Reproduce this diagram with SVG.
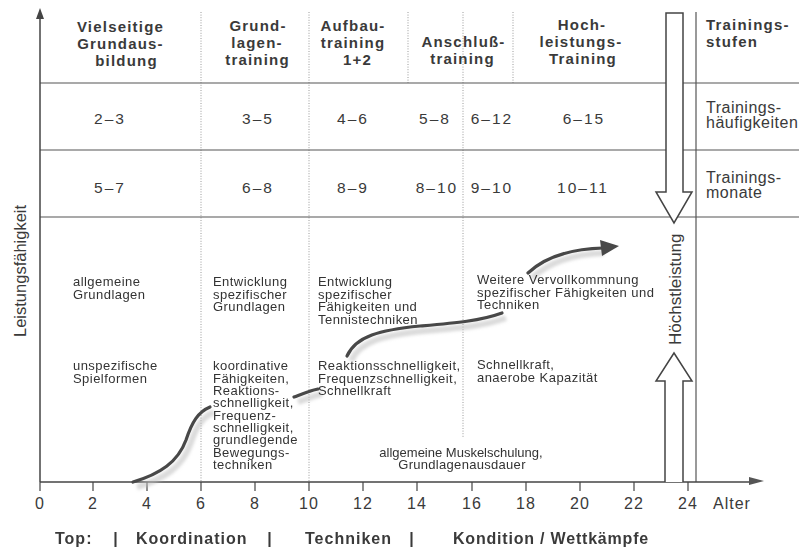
<svg xmlns="http://www.w3.org/2000/svg" width="799" height="548" viewBox="0 0 799 548">
  <defs>
    <style>
      .bg { fill: #ffffff; }
      .axis { stroke: #444; stroke-width: 1.5; fill: none; }
      .rule { stroke: #555; stroke-width: 1.2; fill: none; }
      .dot { stroke: #9a9a9a; stroke-width: 1; stroke-dasharray: 1 1.6; fill: none; }
      .tick { stroke: #444; stroke-width: 1.2; }
      .head { font-family: "Liberation Sans", Arial, sans-serif; font-weight: bold; font-size: 15px; letter-spacing: 1.2px; fill: #3a3a3a; text-anchor: middle; }
      .headL { font-family: "Liberation Sans", Arial, sans-serif; font-weight: bold; font-size: 15px; letter-spacing: 1.2px; fill: #3a3a3a; }
      .num { font-family: "Liberation Sans", Arial, sans-serif; font-size: 15.5px; letter-spacing: 2px; fill: #3a3a3a; text-anchor: middle; }
      .side { font-family: "Liberation Sans", Arial, sans-serif; font-size: 16px; letter-spacing: 0.5px; fill: #3a3a3a; }
      .body { font-family: "Liberation Sans", Arial, sans-serif; font-size: 13px; letter-spacing: 0.45px; fill: #333; }
      .tk { font-family: "Liberation Sans", Arial, sans-serif; font-size: 16px; letter-spacing: 1px; fill: #3a3a3a; text-anchor: middle; }
      .vert { font-family: "Liberation Sans", Arial, sans-serif; font-size: 16.5px; fill: #3a3a3a; }
      .foot { font-family: "Liberation Sans", Arial, sans-serif; font-weight: bold; font-size: 16px; letter-spacing: 1px; fill: #3a3a3a; }
      .curve { stroke: #484848; stroke-width: 3.2; fill: none; stroke-linecap: round; }
      .shadow { stroke: #bdbdbd; stroke-width: 6; fill: none; opacity: 0.55; }
      .hollow { fill: #ffffff; stroke: #444; stroke-width: 1.5; stroke-linejoin: miter; }
    </style>
    <filter id="soft" x="-10%" y="-10%" width="120%" height="120%">
      <feGaussianBlur stdDeviation="1.6"/>
    </filter>
  </defs>

  <rect class="bg" x="0" y="0" width="799" height="548"/>

  <!-- table grid -->
  <g id="grid">
    <line class="dot" x1="201" y1="12" x2="201" y2="482"/>
    <line class="dot" x1="309" y1="12" x2="309" y2="482"/>
    <line class="dot" x1="408" y1="12" x2="408" y2="83"/>
    <line class="dot" x1="463" y1="12" x2="463" y2="438"/>
    <line class="dot" x1="513" y1="12" x2="513" y2="83"/>
    <line class="rule" x1="40" y1="83" x2="799" y2="83"/>
    <line class="rule" x1="40" y1="150" x2="799" y2="150"/>
    <line class="rule" x1="40" y1="217" x2="799" y2="217"/>
    <line class="rule" x1="696" y1="12" x2="696" y2="482"/>
  </g>

  <!-- axes -->
  <g id="axes">
    <line class="axis" x1="40" y1="482" x2="40" y2="16"/>
    <polygon points="40,8 36,19 44,19" fill="#444"/>
    <line class="axis" x1="40" y1="482" x2="752" y2="482"/>
    <polygon points="764,481 749,477 749,485" fill="#555"/>
    <g id="ticks">
      <line class="tick" x1="40" y1="482" x2="40" y2="491"/>
      <line class="tick" x1="93" y1="482" x2="93" y2="491"/>
      <line class="tick" x1="147" y1="482" x2="147" y2="491"/>
      <line class="tick" x1="201" y1="482" x2="201" y2="491"/>
      <line class="tick" x1="255" y1="482" x2="255" y2="491"/>
      <line class="tick" x1="309" y1="482" x2="309" y2="491"/>
      <line class="tick" x1="363" y1="482" x2="363" y2="491"/>
      <line class="tick" x1="417" y1="482" x2="417" y2="491"/>
      <line class="tick" x1="472" y1="482" x2="472" y2="491"/>
      <line class="tick" x1="526" y1="482" x2="526" y2="491"/>
      <line class="tick" x1="580" y1="482" x2="580" y2="491"/>
      <line class="tick" x1="634" y1="482" x2="634" y2="491"/>
      <line class="tick" x1="688" y1="482" x2="688" y2="491"/>
    </g>
    <g id="tick-labels">
      <text class="tk" x="40" y="509">0</text>
      <text class="tk" x="93" y="509">2</text>
      <text class="tk" x="147" y="509">4</text>
      <text class="tk" x="201" y="509">6</text>
      <text class="tk" x="255" y="509">8</text>
      <text class="tk" x="309" y="509">10</text>
      <text class="tk" x="363" y="509">12</text>
      <text class="tk" x="417" y="509">14</text>
      <text class="tk" x="472" y="509">16</text>
      <text class="tk" x="526" y="509">18</text>
      <text class="tk" x="580" y="509">20</text>
      <text class="tk" x="634" y="509">22</text>
      <text class="tk" x="688" y="509">24</text>
      <text class="tk" x="713" y="509" style="text-anchor:start">Alter</text>
    </g>
    <text class="vert" transform="translate(26,337) rotate(-90)">Leistungsfähigkeit</text>
  </g>

  <!-- peak performance arrows -->
  <g id="peak">
    <path class="hollow" d="M666,13 H683 V192 H692 L674,223 L656,192 H666 Z"/>
    <path class="hollow" d="M665,482 V381 H656 L674,353 L692,381 H683 V482"/>
    <text class="vert" transform="translate(681,345) rotate(-90)" style="font-size:17px">Höchstleistung</text>
  </g>

  <!-- training stages (header row) -->
  <g id="stage-headers">
    <text class="head" x="120.5" y="32">Vielseitige</text>
    <text class="head" x="120.5" y="49">Grundaus-</text>
    <text class="head" x="126.5" y="66">bildung</text>
    <text class="head" x="258" y="31">Grund-</text>
    <text class="head" x="257" y="48">lagen-</text>
    <text class="head" x="257.5" y="64.5">training</text>
    <text class="head" x="353" y="31">Aufbau-</text>
    <text class="head" x="353" y="48">training</text>
    <text class="head" x="357.5" y="64.5">1+2</text>
    <text class="head" x="463.5" y="47">Anschluß-</text>
    <text class="head" x="462.5" y="64">training</text>
    <text class="head" x="582" y="30">Hoch-</text>
    <text class="head" x="581" y="47">leistungs-</text>
    <text class="head" x="583" y="63.5">Training</text>
    <text class="headL" x="706" y="30">Trainings-</text>
    <text class="headL" x="706" y="47">stufen</text>
  </g>

  <!-- training frequency row -->
  <g id="frequency-row">
    <text class="num" x="110" y="123.5">2–3</text>
    <text class="num" x="258" y="123.5">3–5</text>
    <text class="num" x="353" y="123.5">4–6</text>
    <text class="num" x="435" y="123.5">5–8</text>
    <text class="num" x="492" y="123.5">6–12</text>
    <text class="num" x="584" y="123.5">6–15</text>
    <text class="side" x="706" y="113">Trainings-</text>
    <text class="side" x="706" y="128">häufigkeiten</text>
  </g>

  <!-- training months row -->
  <g id="months-row">
    <text class="num" x="110" y="192.5">5–7</text>
    <text class="num" x="258" y="192.5">6–8</text>
    <text class="num" x="353" y="192.5">8–9</text>
    <text class="num" x="437" y="192.5">8–10</text>
    <text class="num" x="492" y="192.5">9–10</text>
    <text class="num" x="583" y="192.5">10–11</text>
    <text class="side" x="706" y="183">Trainings-</text>
    <text class="side" x="706" y="198">monate</text>
  </g>

  <!-- performance curve -->
  <g id="curve">
    <g filter="url(#soft)">
      <path class="shadow" d="M137,487 C164,479 182,467 190,445 C196,427 202,417 214,412"/>
      <path class="shadow" d="M298,402 C306,399 313,396 322,394"/>
      <path class="shadow" d="M351,361 C360,341 384,335 424,331 C459,328 484,326 506,318"/>
      <path class="shadow" d="M532,278 C549,262 574,254 604,253"/>
    </g>
    <path class="curve" d="M133,482 C160,474 178,462 186,440 C192,422 198,412 210,407"/>
    <path class="curve" d="M294,397 C302,394 309,391 318,389"/>
    <path class="curve" d="M347,356 C356,336 380,330 420,326 C455,323 480,321 502,313"/>
    <path class="curve" d="M528,273 C545,257 570,249 603,248"/>
    <polygon points="619,246 600,240 602,256" fill="#484848"/>
  </g>

  <!-- stage contents -->
  <g id="stage-1">
    <text class="body" x="73" y="286">allgemeine</text>
    <text class="body" x="73" y="298.5">Grundlagen</text>
    <text class="body" x="73" y="370">unspezifische</text>
    <text class="body" x="73" y="382.5">Spielformen</text>
  </g>
  <g id="stage-2">
    <text class="body" x="213" y="286">Entwicklung</text>
    <text class="body" x="213" y="298.5">spezifischer</text>
    <text class="body" x="213" y="311">Grundlagen</text>
    <text class="body" x="213" y="370">koordinative</text>
    <text class="body" x="213" y="382.5">Fähigkeiten,</text>
    <text class="body" x="213" y="395">Reaktions-</text>
    <text class="body" x="213" y="407">schnelligkeit,</text>
    <text class="body" x="213" y="419.5">Frequenz-</text>
    <text class="body" x="213" y="432">schnelligkeit,</text>
    <text class="body" x="213" y="444">grundlegende</text>
    <text class="body" x="213" y="456.5">Bewegungs-</text>
    <text class="body" x="213" y="469">techniken</text>
  </g>
  <g id="stage-3">
    <text class="body" x="318" y="286">Entwicklung</text>
    <text class="body" x="318" y="298.5">spezifischer</text>
    <text class="body" x="318" y="311">Fähigkeiten und</text>
    <text class="body" x="318" y="323.5">Tennistechniken</text>
    <text class="body" x="318" y="370">Reaktionsschnelligkeit,</text>
    <text class="body" x="318" y="382.5">Frequenzschnelligkeit,</text>
    <text class="body" x="318" y="395">Schnellkraft</text>
  </g>
  <g id="stage-4">
    <text class="body" x="477" y="284">Weitere Vervollkommnung</text>
    <text class="body" x="477" y="296.5">spezifischer Fähigkeiten und</text>
    <text class="body" x="477" y="309">Techniken</text>
    <text class="body" x="477" y="369">Schnellkraft,</text>
    <text class="body" x="477" y="381.5">anaerobe Kapazität</text>
  </g>
  <g id="general">
    <text class="body" x="461" y="457" style="text-anchor:middle;letter-spacing:0px">allgemeine Muskelschulung,</text>
    <text class="body" x="462" y="469" style="text-anchor:middle;letter-spacing:0.3px">Grundlagenausdauer</text>
  </g>

  <!-- focus line -->
  <g id="focus">
    <text class="foot" x="55" y="544">Top:</text>
    <text class="foot" x="116" y="544" style="text-anchor:middle">|</text>
    <text class="foot" x="136" y="544">Koordination</text>
    <text class="foot" x="270" y="544" style="text-anchor:middle">|</text>
    <text class="foot" x="305" y="544">Techniken</text>
    <text class="foot" x="412" y="544" style="text-anchor:middle">|</text>
    <text class="foot" x="453" y="544" style="letter-spacing:0.8px">Kondition / Wettkämpfe</text>
  </g>
</svg>
